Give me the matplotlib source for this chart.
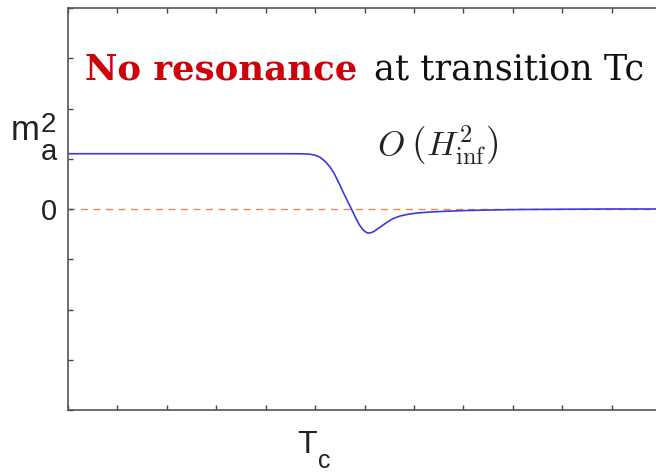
import matplotlib
matplotlib.use("Agg")

import matplotlib.pyplot as plt

# m_a^2 across the transition (x in tick units, Tc at x = 5)
temp = [0.0, 1.0, 2.0, 3.0, 4.0, 4.5, 4.75, 4.9, 5.0, 5.10, 5.20, 5.30, 5.38,
        5.45, 5.51, 5.57, 5.63, 5.69, 5.75, 5.80, 5.85, 5.90, 5.95, 6.01, 6.07,
        6.14, 6.20, 6.26, 6.36, 6.46, 6.58, 6.72, 6.88, 7.06, 7.33, 7.65, 8.0,
        8.5, 9.15, 10.0, 11.0, 12.0]
mass_sq = [1.10, 1.10, 1.10, 1.10, 1.10, 1.10, 1.098, 1.09, 1.07, 1.03, 0.95,
           0.84, 0.72, 0.58, 0.46, 0.33, 0.21, 0.09, -0.03, -0.13, -0.23,
           -0.32, -0.39, -0.45, -0.48, -0.47, -0.44, -0.40, -0.33, -0.26,
           -0.19, -0.14, -0.105, -0.08, -0.06, -0.045, -0.032, -0.02, -0.01,
           -0.005, 0.0, 0.0]

ytick_pos = [-4, -3, -2, -1, 0, 1, 2, 3, 4]
ytick_lab = ["", "", "", "", "0", "", "", "", ""]
xtick_pos = list(range(0, 13))
xtick_lab = ["" for t in xtick_pos]

W, H = 656, 473
fig = plt.figure(figsize=(W / 100, H / 100), dpi=100)
ax = fig.add_axes([68 / W, 1 - 410 / H, 593 / W, 402 / H])

ax.axhline(0, color="#e38a5c", lw=1.0, ls=(0, (5, 4)), zorder=1)
ax.plot(temp, mass_sq, color="#3a3ade", lw=1.2, zorder=2)

ax.set_xlim(0, 12)
ax.set_ylim(-4, 4)

ax.set_xticks(xtick_pos)
ax.set_xticklabels(xtick_lab)
ax.set_yticks(ytick_pos)
ax.set_yticklabels(ytick_lab, fontsize=21, family="Liberation Sans")
ax.tick_params(direction="in", length=3.6, width=1.0, color="#444444",
               top=True, right=True, pad=8, labelcolor="#222222")

for sp in ax.spines.values():
    sp.set_color("#555555")
    sp.set_linewidth(1.2)


def px(x, y):
    # pixel position -> figure fraction
    return x / W, 1 - y / H


sans = dict(family="Liberation Sans", color="#222222", va="baseline", ha="left")

# y label m_a^2
fig.text(*px(11, 140), "m", fontsize=25, **sans)
fig.text(*px(41, 132), "2", fontsize=20, **sans)
fig.text(*px(41, 160), "a", fontsize=21, **sans)

# Tc under the 5th tick
fig.text(*px(297, 453), "T", fontsize=23, **sans)
fig.text(*px(318, 468), "c", fontsize=18, **sans)

ax.text(0.34, 2.57, "No resonance", color="#cf0009", fontsize=25.6,
        fontweight="bold", family="DejaVu Serif", ha="left", va="baseline")
ax.text(6.19, 2.57, "at transition Tc", color="#111111", fontsize=25.2,
        family="DejaVu Serif", ha="left", va="baseline")

ax.text(7.48, 1.27, "$O\\;\\left(H^2_{\\rm inf}\\right)$", fontsize=25,
        math_fontfamily="cm", color="#222222", ha="center", va="center")

fig.savefig("out.png", dpi=100)
plt.close(fig)
